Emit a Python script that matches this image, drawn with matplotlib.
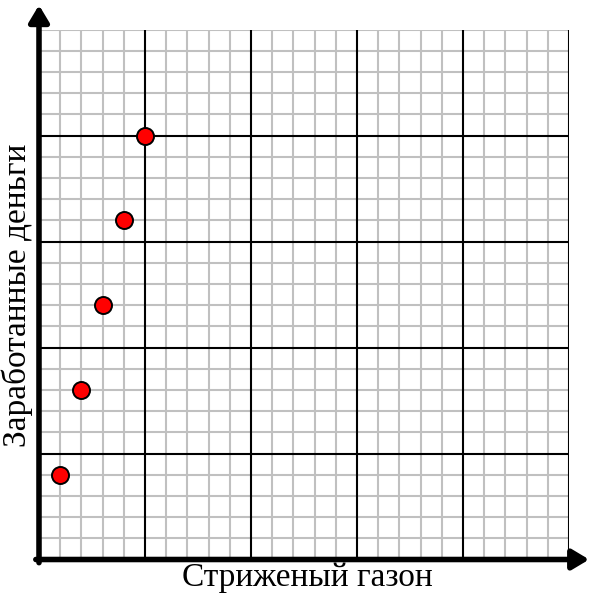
"""Lawn mowing vs money earned on graph paper."""
import matplotlib

matplotlib.use("Agg")
from matplotlib import pyplot as plt

lawns_cut = [1, 2, 3, 4, 5]
money_earned = [4, 8, 12, 16, 20]
grid_max = 25
major_step = 5
x_label = "Стриженый газон"
y_label = "Заработанные деньги"

W, H = 589, 595
fig = plt.figure(figsize=(W / 100, H / 100), dpi=100)
left, right, bottom, top = 39, 569, 559.5, 29.5
ax = fig.add_axes([left / W, (H - bottom) / H, (right - left) / W, (bottom - top) / H])
ax.set_xlim(0, grid_max)
ax.set_ylim(0, grid_max)

# graph paper: grey minor lines, black every major_step
for v in range(1, grid_max + 1):
    major = v % major_step == 0
    color = "black" if major else "#c0c0c0"
    z = 2 if major else 1
    ax.axvline(v, color=color, linewidth=1.5, zorder=z)
    if v < grid_max:
        ax.axhline(v, color=color, linewidth=1.5, zorder=z)
ax.axhline(grid_max, color="#c0c0c0", linewidth=1.5, zorder=1)

for s in ax.spines.values():
    s.set_visible(False)
ax.set_xticks([])
ax.set_yticks([])

ax.scatter(lawns_cut, money_earned, s=150, color="red", edgecolor="black",
           linewidth=1.4, zorder=5, clip_on=False)

arrow = dict(arrowstyle="-|>,head_length=0.5,head_width=0.3", mutation_scale=20,
             lw=4, color="black", shrinkA=0, shrinkB=0)
ax.annotate("", xy=(1.038, 0), xytext=(-0.006, 0), xycoords="axes fraction",
            arrowprops=arrow, annotation_clip=False, zorder=6)
ax.annotate("", xy=(0, 1.046), xytext=(0, -0.006), xycoords="axes fraction",
            arrowprops=arrow, annotation_clip=False, zorder=6)

fig.text(307 / W, 1 - 578 / H, x_label, ha="center", va="center",
         family="Liberation Serif", fontsize=24)
fig.text(17 / W, 1 - 295 / H, y_label, ha="center", va="center", rotation=90,
         family="Liberation Serif", fontsize=24)

fig.savefig("out.png")
